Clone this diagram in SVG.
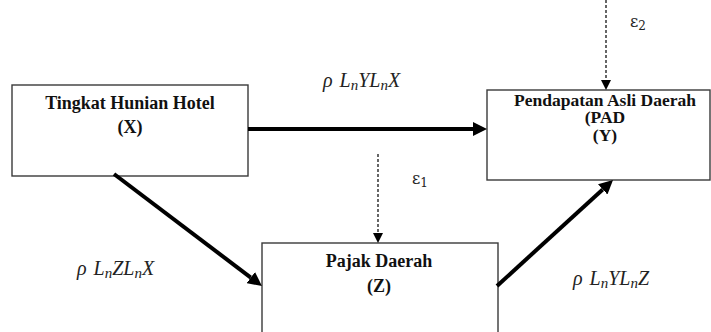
<svg xmlns="http://www.w3.org/2000/svg" width="711" height="332" viewBox="0 0 711 332">
<style>
.box{fill:#fff;stroke:#3a3a3a;stroke-width:1.4}
.t{font-family:"Liberation Serif","Times New Roman",serif;font-weight:bold;font-size:18px;fill:#111;text-anchor:middle}
.ty{font-size:17.5px}
.lab{font-family:"Liberation Serif","Times New Roman",serif;font-style:italic;font-size:20px;fill:#222}
.sub{font-size:15px}
.es{font-size:12px}
.eps{font-family:"DejaVu Serif","Liberation Serif",serif;font-size:16px;fill:#222}
.thick{stroke:#000;stroke-width:4;fill:none}
.dash{stroke:#000;stroke-width:1.2;stroke-dasharray:3 2;fill:none}
</style>
<defs>
<marker id="ah" viewBox="0 0 14 14" refX="0" refY="7" markerWidth="14" markerHeight="14" markerUnits="userSpaceOnUse" orient="auto">
<path d="M0,0 L14,7 L0,14 Z" fill="#000"/>
</marker>
<marker id="ahs" viewBox="0 0 10 10" refX="0" refY="5" markerWidth="10" markerHeight="10" markerUnits="userSpaceOnUse" orient="auto">
<path d="M0,0 L10,5 L0,10 Z" fill="#000"/>
</marker>
</defs>
<g id="nodeX">
<rect class="box" x="12" y="85" width="236" height="91"/>
<text class="t" x="130" y="109">Tingkat Hunian Hotel</text>
<text class="t" x="130" y="133">(X)</text>
</g>
<g id="nodeY">
<rect class="box" x="487" y="90" width="223" height="90"/>
<text class="t ty" x="605" y="105.5">Pendapatan Asli Daerah</text>
<text class="t ty" x="605" y="123">(PAD</text>
<text class="t ty" x="605" y="140.5">(Y)</text>
</g>
<g id="nodeZ">
<rect class="box" x="262" y="243" width="236" height="100"/>
<text class="t" x="379" y="267">Pajak Daerah</text>
<text class="t" x="379" y="292">(Z)</text>
</g>
<g id="connectors">
<line class="thick" x1="248" y1="129" x2="473" y2="129" marker-end="url(#ah)"/>
<line class="thick" x1="114" y1="174" x2="250.8" y2="277.6" marker-end="url(#ah)"/>
<line class="thick" x1="497" y1="286" x2="602.7" y2="189.4" marker-end="url(#ah)"/>
<line class="dash" x1="378" y1="154" x2="378" y2="233" marker-end="url(#ahs)"/>
<line class="dash" x1="606" y1="0" x2="606" y2="80" marker-end="url(#ahs)"/>
</g>
<g id="labels">
<text class="lab" x="323" y="87">ρ <tspan dx="2">L</tspan><tspan class="sub" dy="3">n</tspan><tspan dy="-3">YL</tspan><tspan class="sub" dy="3">n</tspan><tspan dy="-3">X</tspan></text>
<text class="lab" x="77" y="275">ρ <tspan dx="2">L</tspan><tspan class="sub" dy="3">n</tspan><tspan dy="-3">ZL</tspan><tspan class="sub" dy="3">n</tspan><tspan dy="-3">X</tspan></text>
<text class="lab" x="573" y="285">ρ <tspan dx="2">L</tspan><tspan class="sub" dy="3">n</tspan><tspan dy="-3">YL</tspan><tspan class="sub" dy="3">n</tspan><tspan dy="-3">Z</tspan></text>
<text class="eps" x="412" y="184">ε<tspan class="es" dy="3">1</tspan></text>
<text class="eps" x="630" y="27">ε<tspan class="es" dy="3">2</tspan></text>
</g>
</svg>
